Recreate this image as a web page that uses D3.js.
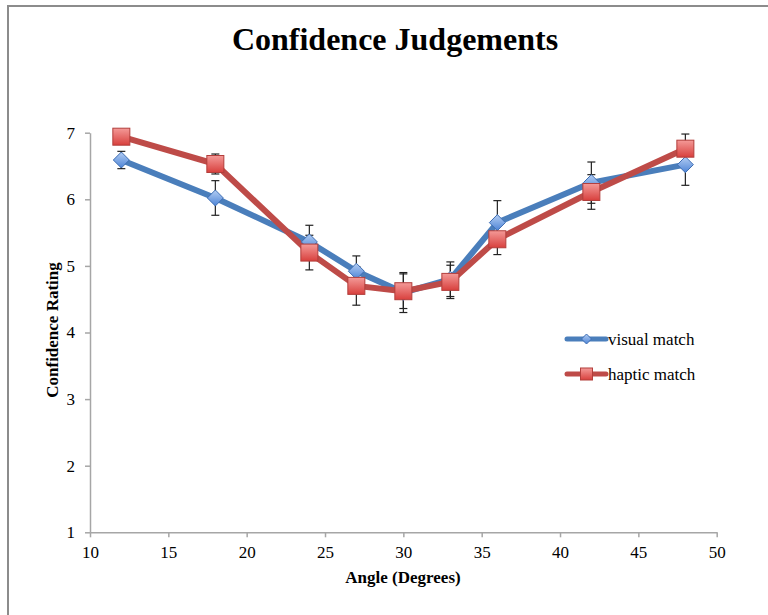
<!DOCTYPE html>
<html>
<head>
<meta charset="utf-8">
<script src="https://cdn.jsdelivr.net/npm/d3@7"></script>
<style>
  html, body { margin: 0; padding: 0; background: #fff; }
  svg { display: block; }
  svg text { font-family: "Liberation Serif", "Times New Roman", "DejaVu Serif", serif !important; fill: #000; }
</style>
</head>
<body>
<svg id="chart" width="768" height="615"></svg>
<script>
// ---- data ----
const angles = [12, 18, 24, 27, 30, 33, 36, 42, 48];
const visualMatch = [6.59, 6.02, 5.36, 4.92, 4.60, 4.80, 5.65, 6.25, 6.52];
const visualErr   = [0.13, 0.26, 0.25, 0.23, 0.30, 0.26, 0.33, 0.31, 0.31];
const hapticMatch = [6.94, 6.53, 5.20, 4.70, 4.62, 4.76, 5.40, 6.11, 6.76];
const hapticErr   = [0.10, 0.15, 0.26, 0.29, 0.26, 0.25, 0.23, 0.26, 0.22];
const xTicks = [10, 15, 20, 25, 30, 35, 40, 45, 50];
const yTicks = [1, 2, 3, 4, 5, 6, 7];
const seriesNames = ["visual match", "haptic match"];

const SERIF = '"Liberation Serif", "Times New Roman", "DejaVu Serif", serif';
const svg = d3.select("#chart");

// outer chart frame (extends past the viewport on right/bottom)
svg.append("rect")
  .attr("x", 8).attr("y", 6).attr("width", 900).attr("height", 800)
  .attr("fill", "#fff").attr("stroke", "#8c8c8c").attr("stroke-width", 2);

// gradients
const defs = svg.append("defs");
const gb = defs.append("linearGradient").attr("id", "gBlue").attr("x1", 0).attr("y1", 0).attr("x2", 0).attr("y2", 1);
gb.append("stop").attr("offset", "0%").attr("stop-color", "#b3cdf3");
gb.append("stop").attr("offset", "100%").attr("stop-color", "#4d84d6");
const gr = defs.append("linearGradient").attr("id", "gRed").attr("x1", 0).attr("y1", 0).attr("x2", 0).attr("y2", 1);
gr.append("stop").attr("offset", "0%").attr("stop-color", "#f49a98");
gr.append("stop").attr("offset", "100%").attr("stop-color", "#d8403d");

// scales
const x = d3.scaleLinear().domain([10, 50]).range([90, 716.7]);
const y = d3.scaleLinear().domain([1, 7]).range([532.3, 132.7]);

const axisColor = "#a6a6a6";

// x axis
const gx = svg.append("g").attr("transform", `translate(0,${y(1)})`)
  .call(d3.axisBottom(x).tickValues(xTicks).tickSize(5).tickSizeOuter(0).tickPadding(9).tickFormat(d3.format("d")));
gx.attr("font-family", null);
gx.select(".domain").attr("stroke", axisColor).attr("stroke-width", 1.5);
gx.selectAll(".tick line").attr("stroke", axisColor).attr("stroke-width", 1.5);
gx.selectAll(".tick text").style("font-family", SERIF).attr("font-size", 17).attr("fill", "#000");

// y axis
const gy = svg.append("g").attr("transform", `translate(${x(10)},0)`)
  .call(d3.axisLeft(y).tickValues(yTicks).tickSize(5).tickSizeOuter(0).tickPadding(10).tickFormat(d3.format("d")));
gy.attr("font-family", null);
gy.select(".domain").attr("stroke", axisColor).attr("stroke-width", 1.5);
gy.selectAll(".tick line").attr("stroke", axisColor).attr("stroke-width", 1.5);
gy.selectAll(".tick text").style("font-family", SERIF).attr("font-size", 17).attr("fill", "#000");

// titles
svg.append("text").attr("x", 395).attr("y", 50).attr("text-anchor", "middle").style("font-family", SERIF)
  .attr("font-size", 32).attr("font-weight", "bold").text("Confidence Judgements");
svg.append("text").attr("x", 403).attr("y", 583).attr("text-anchor", "middle").style("font-family", SERIF)
  .attr("font-size", 17).attr("font-weight", "bold").text("Angle (Degrees)");
svg.append("text").attr("transform", "translate(58,330) rotate(-90)").attr("text-anchor", "middle").style("font-family", SERIF)
  .attr("font-size", 17).attr("font-weight", "bold").text("Confidence Rating");

const series = [
  { name: seriesNames[0], vals: visualMatch, err: visualErr, color: "#4a7ebb", fill: "url(#gBlue)", stroke: "#3d6db3", shape: "diamond" },
  { name: seriesNames[1], vals: hapticMatch, err: hapticErr, color: "#be4b48", fill: "url(#gRed)", stroke: "#b23e3b", shape: "square" }
];

// error bars
const capW = 4;
series.forEach(s => {
  const g = svg.append("g").attr("stroke", "#222").attr("stroke-width", 1.2);
  angles.forEach((a, i) => {
    const cx = x(a), hi = y(s.vals[i] + s.err[i]), lo = y(s.vals[i] - s.err[i]);
    g.append("line").attr("x1", cx).attr("x2", cx).attr("y1", hi).attr("y2", lo);
    g.append("line").attr("x1", cx - capW).attr("x2", cx + capW).attr("y1", hi).attr("y2", hi);
    g.append("line").attr("x1", cx - capW).attr("x2", cx + capW).attr("y1", lo).attr("y2", lo);
  });
});

// lines
const line = d3.line().x(d => x(d[0])).y(d => y(d[1]));
series.forEach(s => {
  svg.append("path").datum(angles.map((a, i) => [a, s.vals[i]]))
    .attr("d", line).attr("fill", "none").attr("stroke", s.color)
    .attr("stroke-width", 6).attr("stroke-linejoin", "round");
});

function drawMarker(g, shape, cx, cy, size, s) {
  if (shape === "diamond") {
    const h = size / 2;
    g.append("path").attr("d", `M${cx},${cy - h}L${cx + h},${cy}L${cx},${cy + h}L${cx - h},${cy}Z`)
      .attr("fill", s.fill).attr("stroke", s.stroke).attr("stroke-width", 1);
  } else {
    g.append("rect").attr("x", cx - size / 2).attr("y", cy - size / 2)
      .attr("width", size).attr("height", size)
      .attr("fill", s.fill).attr("stroke", s.stroke).attr("stroke-width", 1);
  }
}

// markers
series.forEach(s => {
  const g = svg.append("g");
  angles.forEach((a, i) => {
    drawMarker(g, s.shape, x(a), y(s.vals[i]), s.shape === "diamond" ? 16 : 17, s);
  });
});

// legend
const legY = [339, 374];
series.forEach((s, i) => {
  const g = svg.append("g");
  g.append("line").attr("x1", 567).attr("x2", 606).attr("y1", legY[i]).attr("y2", legY[i])
    .attr("stroke", s.color).attr("stroke-width", 5).attr("stroke-linecap", "round");
  drawMarker(g, s.shape, 586.5, legY[i], s.shape === "diamond" ? 10 : 12, s);
  g.append("text").attr("x", 608).attr("y", legY[i] + 6).style("font-family", SERIF).attr("font-size", 17).text(s.name);
});
</script>
</body>
</html>
